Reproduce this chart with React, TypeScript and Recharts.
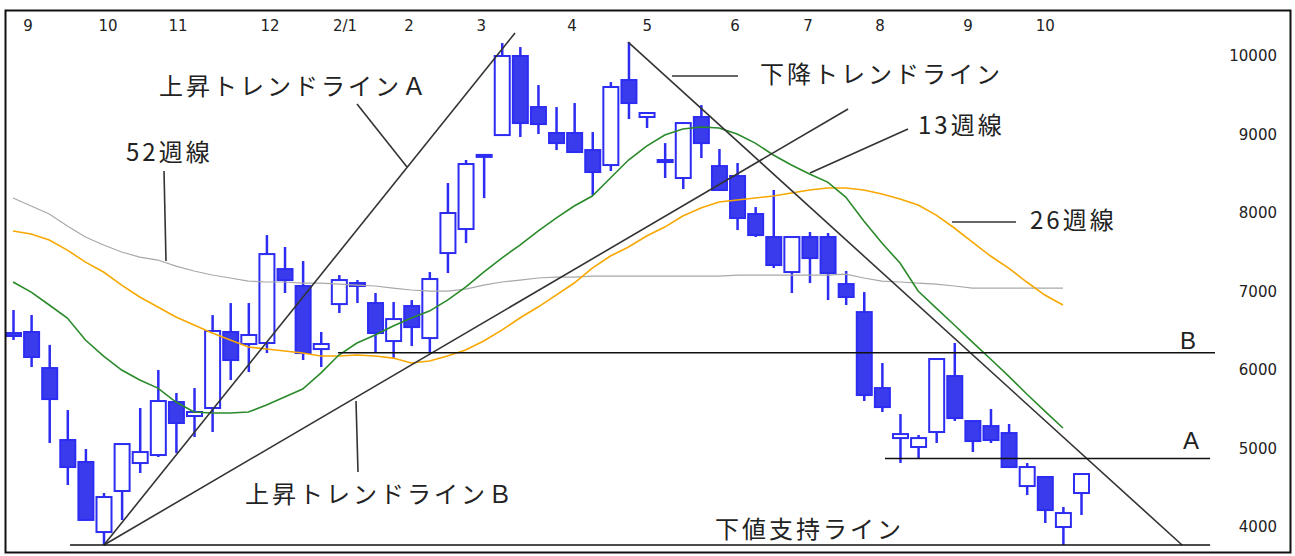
import React from "react";
import { ComposedChart, Bar, Line, XAxis, YAxis, ReferenceLine } from "recharts";

// weekly candles, oldest first
const opens = [6471, 6484, 6025, 5108, 4828, 3936, 4459, 4815, 4917, 5592, 5414, 5516, 6484, 6331, 6344, 7286, 7070, 6267, 6840, 7108,
  6853, 6369, 6815, 6407, 7490, 7796, 8720, 8993, 10000, 9350, 9019, 9019, 8802, 8611, 9694, 9223, 8675, 8446, 9223, 8598,
  8471, 7987, 7694, 7248, 7694, 7694, 7095, 6738, 5770, 5133, 5019, 5210, 5923, 5350, 5286, 5197, 4522, 4637, 4000, 4433];
const highs = [6764, 6701, 6320, 5490, 4994, 4433, 5070, 5516, 6000, 5707, 5770, 6700, 6853, 6853, 7719, 7567, 7388, 6484, 7210, 7146,
  6981, 6866, 6891, 7248, 8382, 8675, 8750, 10165, 10114, 9630, 9350, 9401, 9031, 9668, 10178, 9280, 8891, 9159, 9375, 8815,
  8637, 8076, 8293, 7700, 7758, 7745, 7261, 6993, 6089, 5439, 5172, 6150, 6344, 5360, 5503, 5312, 4815, 4650, 4255, 4680];
const lows = [6382, 6038, 5070, 4535, 4080, 3775, 4089, 4688, 4892, 4943, 5146, 5210, 5872, 5974, 6216, 6981, 6127, 6038, 6726, 6853,
  6229, 6152, 6305, 6216, 7235, 7617, 8190, 8990, 8968, 9006, 8802, 8764, 8229, 8535, 9197, 9083, 8446, 8305, 8700, 8280,
  7783, 7694, 7299, 6981, 7108, 6891, 6828, 5605, 5465, 4815, 4879, 5070, 5350, 4955, 5070, 4751, 4407, 4051, 3771, 4153];
const closes = [6433, 6166, 5630, 4764, 4090, 4382, 5057, 4955, 5605, 5325, 5465, 6497, 6127, 6446, 7477, 7146, 6216, 6331, 7146, 7070,
  6471, 6649, 6547, 7159, 8000, 8624, 8740, 10000, 9146, 9133, 8891, 8777, 8522, 9605, 9401, 9274, 8649, 9146, 8891, 8293,
  7936, 7719, 7337, 7694, 7426, 7235, 6930, 5681, 5528, 5184, 5133, 6140, 5388, 5095, 5108, 4764, 4764, 4216, 4178, 4675];

// moving averages (13, 26, 52 weeks)
const ma13 = [7121, 6993, 6828, 6662, 6382, 6178, 6000, 5872, 5770, 5592, 5465, 5452, 5452, 5465, 5554, 5656, 5758, 5961, 6191, 6344,
  6446, 6560, 6662, 6751, 6891, 7057, 7248, 7426, 7592, 7770, 7936, 8089, 8216, 8446, 8675, 8853, 8993, 9070, 9095, 9083,
  9006, 8891, 8739, 8611, 8496, 8394, 8203, 7898, 7617, 7363, 7006, 6789, 6573, 6356, 6140, 5923, 5694, 5477, 5261];
const ma26 = [7770, 7732, 7656, 7528, 7375, 7248, 7082, 6930, 6802, 6675, 6573, 6471, 6382, 6293, 6267, 6242, 6216, 6178, 6178, 6191,
  6178, 6152, 6089, 6114, 6178, 6254, 6369, 6509, 6662, 6802, 6955, 7108, 7299, 7452, 7567, 7707, 7821, 7961, 8063, 8140,
  8165, 8191, 8216, 8254, 8293, 8318, 8318, 8293, 8242, 8178, 8102, 7974, 7809, 7630, 7452, 7299, 7121, 6955, 6828];
const ma52 = [8191, 8089, 7987, 7834, 7694, 7592, 7503, 7439, 7401, 7324, 7261, 7210, 7172, 7133, 7121, 7121, 7108, 7108, 7095, 7082,
  7070, 7044, 7019, 7006, 7006, 7031, 7082, 7121, 7146, 7172, 7184, 7184, 7197, 7197, 7197, 7197, 7197, 7197, 7197, 7197,
  7210, 7210, 7210, 7210, 7210, 7210, 7222, 7172, 7133, 7121, 7108, 7095, 7070, 7044, 7044, 7044, 7044, 7044, 7044];

const monthTicks = [1.83, 6.25, 10.12, 15.2, 19.34, 22.88, 26.86, 31.88, 36.03, 40.89, 44.92, 48.9, 53.76, 58.02];
const monthLabels = ["9", "10", "11", "12", "2/1", "2", "3", "4", "5", "6", "7", "8", "9", "10"];
const priceTicks = [4000, 5000, 6000, 7000, 8000, 9000, 10000];

// trend lines: [week from, price from, week to, price to]
const trendA = [6.02, 3771, 28.73, 10293];
const trendB = [6.02, 3771, 47.13, 9325];
const trendDown = [34.98, 10178, 65.58, 3771];
const levelB = [18.95, 6220, 67.4];
const levelA = [49.17, 4872, 67.13];
const support = [4.15, 3771, 67.13];

const data = opens.map((o, i) => ({
  idx: i + 1,
  open: o,
  close: closes[i],
  high: highs[i],
  low: lows[i],
  range: [lows[i], highs[i]],
  ma13: ma13[i] ?? null,
  ma26: ma26[i] ?? null,
  ma52: ma52[i] ?? null,
}));

const BLUE = "#2c2cf2";
const BODY = "#3b3bee";
const INK = "#222";
const JP = "'Noto Sans CJK JP', 'Noto Sans', sans-serif";
const NUM = "'DejaVu Sans', sans-serif";

const Candle = (props: any) => {
  const { x, y, width, height, payload } = props;
  if (x == null || y == null || !payload) return null;
  const { open, close, high, low } = payload;
  const k = height / (high - low);
  const yo = y + (high - open) * k;
  const yc = y + (high - close) * k;
  const top = Math.min(yo, yc);
  const h = Math.max(Math.abs(yo - yc), 2);
  const cx = x + width / 2;
  const down = close < open;
  return (
    <g>
      <line x1={cx} x2={cx} y1={y} y2={y + height} stroke={BLUE} strokeWidth={2.5} />
      <rect x={x + 1} y={top} width={width - 2} height={h} fill={down ? BODY : "#fff"} stroke={BLUE} strokeWidth={2} />
    </g>
  );
};

const MonthTick = (props: any) => {
  const { x, payload, index } = props;
  const i = monthTicks.indexOf(payload.value);
  return (
    <text x={x} y={31} textAnchor="middle" fontSize={15} fontFamily={NUM} fill={INK}>
      {monthLabels[i >= 0 ? i : index]}
    </text>
  );
};

const PriceTick = (props: any) => {
  const { x, y, payload } = props;
  return (
    <text x={x + 54} y={y} dy={5} textAnchor="end" fontSize={15} fontFamily={NUM} fill={INK}>
      {payload.value}
    </text>
  );
};

const seg = (t: number[]) => [{ x: t[0], y: t[1] }, { x: t[2], y: t[3] }];
const flat = (t: number[]) => [{ x: t[0], y: t[1] }, { x: t[2], y: t[1] }];

const label = { fontFamily: JP, fontSize: 24, letterSpacing: 3, fill: INK, dominantBaseline: "central" as const };

export default function App() {
  return (
    <div style={{ position: "absolute", left: 0, top: 0, width: 1295, height: 556, background: "#fff" }}>
      <ComposedChart width={1295} height={556} data={data} margin={{ top: 10, right: 0, bottom: 3, left: 4 }}>
        <XAxis
          dataKey="idx"
          type="number"
          orientation="top"
          domain={[0.5, 67.4]}
          allowDataOverflow
          ticks={monthTicks}
          interval={0}
          height={30}
          axisLine={false}
          tickLine={false}
          tick={MonthTick}
        />
        <YAxis
          orientation="right"
          type="number"
          domain={[3669, 10204]}
          allowDataOverflow
          ticks={priceTicks}
          interval={0}
          width={80}
          axisLine={false}
          tickLine={false}
          tickSize={0}
          tickMargin={8}
          tick={PriceTick}
        />
        <Bar dataKey="range" barSize={17} shape={(p: any) => <Candle {...p} />} isAnimationActive={false} />
        <Line dataKey="ma52" type="linear" stroke="#a8a8a8" strokeWidth={1.2} dot={false} isAnimationActive={false} />
        <Line dataKey="ma26" type="linear" stroke="#f7a800" strokeWidth={1.6} dot={false} isAnimationActive={false} />
        <Line dataKey="ma13" type="linear" stroke="#2a8a2a" strokeWidth={1.6} dot={false} isAnimationActive={false} />
        <ReferenceLine segment={seg(trendA)} stroke="#333" strokeWidth={1.6} ifOverflow="visible" />
        <ReferenceLine segment={seg(trendB)} stroke="#333" strokeWidth={1.6} ifOverflow="visible" />
        <ReferenceLine segment={seg(trendDown)} stroke="#333" strokeWidth={1.6} ifOverflow="visible" />
        <ReferenceLine segment={flat(levelB)} stroke="#111" strokeWidth={1.6} ifOverflow="visible" />
        <ReferenceLine segment={flat(levelA)} stroke="#111" strokeWidth={1.6} ifOverflow="visible" />
        <ReferenceLine segment={flat(support)} stroke="#111" strokeWidth={1.6} ifOverflow="visible" />
      </ComposedChart>
      <svg width={1295} height={556} style={{ position: "absolute", left: 0, top: 0, pointerEvents: "none" }}>
        <rect x={5.5} y={10.5} width={1285} height={542} fill="none" stroke="#111" strokeWidth={2} />
        <g stroke="#333" strokeWidth={1.6}>
          <line x1={357} y1={104} x2={407} y2={167} />
          <line x1={164} y1={171} x2={166} y2={261} />
          <line x1={672} y1={76} x2={738} y2={76} />
          <line x1={810} y1={173} x2={908} y2={129} />
          <line x1={952} y1={222} x2={1016} y2={222} />
          <line x1={356} y1={401} x2={358} y2={472} />
        </g>
        <text x={159} y={84} {...label}>上昇トレンドラインＡ</text>
        <text x={126} y={150} {...label}>52週線</text>
        <text x={760} y={72} {...label}>下降トレンドライン</text>
        <text x={918} y={123} {...label}>13週線</text>
        <text x={1030} y={218} {...label}>26週線</text>
        <text x={245} y={492} {...label}>上昇トレンドラインＢ</text>
        <text x={715} y={527} {...label}>下値支持ライン</text>
        <text x={1180} y={340} {...label} fontFamily="'Liberation Sans', sans-serif">B</text>
        <text x={1183} y={440} {...label} fontFamily="'Liberation Sans', sans-serif">A</text>
      </svg>
    </div>
  );
}
